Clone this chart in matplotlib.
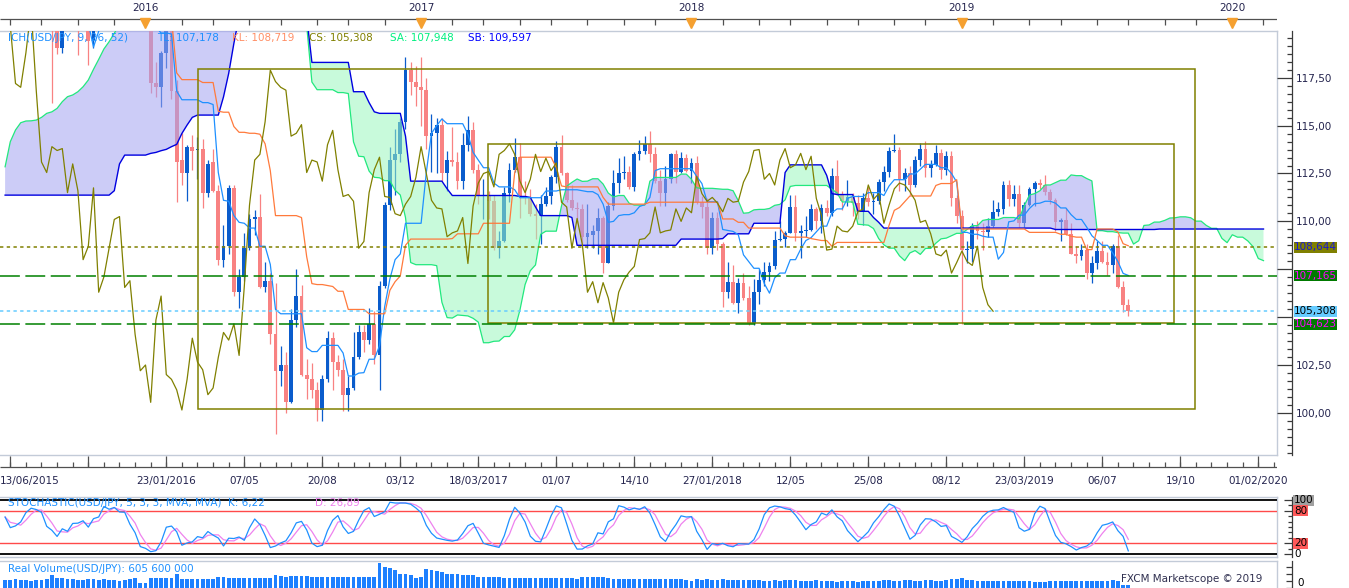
import datetime as dt
import numpy as np
import pandas as pd
import matplotlib
matplotlib.use("Agg")
import matplotlib.pyplot as plt
from matplotlib.patches import Rectangle
from matplotlib.ticker import FixedLocator, FuncFormatter, NullLocator

# ---------------------------------------------------------------- data
first_week = "2015-06-21"   # Sunday that opens weekly bar 0 (USD/JPY, weekly)

opens = [
    122.7, 123.9, 122.8, 122.8, 124.1, 123.8, 123.9, 124.2, 124.3, 122.0,
    121.7, 119.05, 120.6, 120.05, 120.55, 120.2, 120.25, 119.45, 121.4, 120.6,
    123.2, 122.6, 122.8, 122.8, 123.1, 121.0, 121.2, 120.3, 120.2, 117.2,
    117.0, 118.8, 121.1, 116.8, 113.2, 112.55, 113.9, 113.75, 113.8, 111.5,
    113.1, 111.6, 108.0, 108.7, 111.75, 106.3, 107.1, 108.6, 110.1, 110.25,
    106.55, 106.9, 104.1, 102.2, 102.5, 100.55, 104.85, 106.1, 102.0, 101.75,
    101.2, 100.15, 101.75, 103.9, 102.65, 102.25, 100.95, 101.3, 102.9, 104.2,
    103.8, 104.65, 103.0, 106.6, 110.85, 113.2, 113.5, 115.2, 117.9, 117.3,
    117.0, 116.85, 114.45, 114.6, 115.05, 112.55, 113.2, 113.1, 112.1, 114.0,
    114.75, 112.7, 111.3, 111.4, 111.05, 108.6, 108.95, 111.5, 112.7, 113.35,
    111.3, 111.25, 110.4, 110.3, 110.9, 111.3, 112.3, 113.9, 112.5, 111.1,
    110.7, 110.65, 109.2, 109.3, 109.5, 110.2, 107.8, 110.8, 112.0, 112.5,
    112.6, 111.8, 113.5, 113.7, 114.05, 113.5, 112.1, 111.5, 112.2, 113.5,
    112.6, 113.3, 112.65, 113.05, 111.0, 110.75, 108.6, 110.15, 108.8, 106.3,
    106.85, 105.75, 106.8, 106.0, 104.7, 106.3, 106.95, 107.35, 107.65, 109.05,
    109.1, 109.4, 110.75, 109.4, 109.5, 109.55, 110.65, 110.0, 110.7, 110.45,
    112.35, 111.45, 111.05, 111.25, 110.95, 110.5, 111.2, 111.0, 111.05, 112.05,
    112.6, 113.7, 113.75, 112.2, 112.5, 111.9, 113.2, 113.8, 112.8, 112.95,
    113.55, 112.7, 113.4, 111.2, 110.3, 108.5, 108.55, 109.75, 109.5, 109.45,
    109.75, 110.5, 110.65, 111.9, 111.15, 111.45, 109.9, 110.85, 111.7, 112.0,
    111.9, 111.55, 111.1, 109.95, 110.05, 109.35, 108.3, 108.2, 108.5, 107.3,
    107.85, 108.45, 107.9, 107.7, 108.7, 106.55, 105.65,
]
highs = [
    124.5, 123.9, 123.2, 124.5, 124.6, 124.6, 125.0, 125.3, 124.5, 122.0,
    121.7, 121.3, 121.3, 121.0, 120.8, 120.6, 120.4, 121.5, 121.7, 123.3,
    123.6, 123.8, 123.3, 123.7, 123.6, 122.6, 121.5, 120.6, 120.6, 118.3,
    118.9, 121.7, 121.5, 117.4, 114.6, 114.0, 114.5, 114.4, 114.3, 113.2,
    113.8, 111.9, 109.8, 111.9, 111.9, 107.5, 109.4, 110.4, 110.6, 111.45,
    107.9, 107.3, 106.8, 103.5, 103.2, 105.4, 107.5, 106.7, 102.8, 102.6,
    101.6, 102.0, 104.3, 104.2, 103.0, 102.8, 101.9, 104.2, 104.6, 104.6,
    105.5, 105.3, 106.9, 111.0, 113.9, 114.8, 115.4, 118.6, 118.3, 118.1,
    118.6, 117.5, 115.6, 115.4, 115.4, 113.65, 114.95, 113.6, 114.6, 115.5,
    115.2, 113.0, 112.2, 111.6, 111.4, 109.5, 111.8, 113.05, 114.37, 114.1,
    112.1, 111.7, 110.9, 111.4, 111.8, 112.4, 114.2, 114.5, 112.6, 111.9,
    111.0, 110.9, 110.9, 109.8, 110.7, 110.3, 111.0, 112.7, 113.3, 113.4,
    112.9, 113.6, 114.25, 114.45, 114.7, 113.9, 112.7, 112.9, 113.55, 113.75,
    113.6, 113.5, 113.3, 113.4, 111.3, 111.2, 110.5, 110.5, 108.9, 107.9,
    107.7, 107.05, 107.3, 106.6, 107.0, 107.5, 107.9, 107.9, 109.5, 110.0,
    109.5, 111.4, 111.4, 109.8, 110.3, 110.9, 110.75, 110.9, 111.1, 112.8,
    113.2, 111.6, 112.15, 111.5, 111.4, 111.5, 111.8, 111.5, 112.2, 112.9,
    113.9, 114.55, 113.9, 112.8, 112.9, 113.4, 114.1, 114.2, 113.2, 114.0,
    113.8, 113.7, 113.7, 111.4, 110.6, 109.0, 109.9, 110.0, 109.9, 110.2,
    111.1, 111.0, 112.1, 112.15, 111.9, 111.9, 111.0, 111.8, 112.1, 112.2,
    112.4, 111.7, 111.2, 110.2, 110.7, 109.9, 108.7, 108.8, 108.8, 108.2,
    108.99, 108.99, 108.4, 108.8, 109.3, 106.9, 105.95,
]
lows = [
    122.6, 122.1, 120.4, 122.4, 123.6, 123.5, 123.7, 123.8, 121.8, 116.2,
    118.75, 118.8, 120.05, 120.05, 118.7, 120.05, 118.15, 119.05, 120.1, 120.3,
    122.2, 122.5, 122.3, 122.3, 120.6, 120.3, 120.2, 120.1, 116.7, 116.5,
    115.97, 118.0, 116.4, 111.0, 111.9, 111.05, 112.7, 112.2, 110.7, 111.25,
    111.55, 107.7, 107.6, 108.3, 106.1, 105.5, 106.9, 108.5, 109.3, 106.5,
    106.3, 103.6, 98.9, 101.4, 100.0, 100.5, 104.5, 101.9, 100.7, 100.8,
    99.55, 99.6, 101.6, 101.2, 101.9, 100.1, 100.1, 101.2, 102.8, 103.2,
    103.6, 102.55, 101.2, 106.5, 110.6, 111.4, 113.1, 114.8, 116.6, 116.0,
    115.0, 113.8, 112.6, 112.5, 112.1, 111.6, 112.9, 111.7, 111.7, 113.7,
    112.5, 110.9, 110.1, 110.1, 108.5, 108.1, 108.9, 111.0, 112.6, 110.2,
    110.9, 110.3, 109.1, 108.8, 110.8, 110.9, 112.0, 112.4, 111.0, 110.6,
    109.9, 108.7, 108.6, 108.6, 108.3, 107.3, 107.8, 110.6, 111.5, 112.2,
    111.7, 111.6, 113.2, 113.5, 113.1, 112.0, 110.8, 110.8, 112.0, 112.0,
    112.5, 112.6, 112.0, 110.9, 110.2, 108.3, 108.3, 108.5, 105.55, 106.0,
    105.7, 105.2, 105.9, 104.6, 104.6, 105.7, 106.6, 106.9, 107.5, 108.95,
    108.65, 109.4, 108.95, 108.1, 109.2, 109.5, 109.6, 109.4, 110.3, 110.3,
    111.4, 110.6, 110.8, 110.3, 110.1, 109.8, 110.8, 110.4, 110.9, 111.6,
    112.3, 113.6, 111.6, 111.6, 111.4, 111.8, 112.9, 112.3, 112.3, 112.9,
    112.2, 112.4, 110.8, 109.9, 104.65, 107.8, 107.9, 109.1, 108.5, 109.2,
    109.7, 110.3, 110.4, 110.8, 110.8, 109.7, 109.7, 110.8, 110.8, 111.7,
    111.4, 110.9, 109.5, 109.0, 109.3, 108.3, 107.8, 108.0, 107.0, 106.8,
    107.5, 107.8, 107.2, 107.3, 106.5, 105.27, 105.05,
]
closes = [
    123.9, 122.8, 122.8, 124.1, 123.8, 123.9, 124.2, 124.3, 122.0, 121.7,
    119.05, 120.6, 120.05, 120.55, 120.2, 120.25, 119.4, 121.4, 120.6, 123.2,
    122.6, 122.8, 122.8, 123.1, 121.0, 121.2, 120.3, 120.2, 117.2, 117.0,
    118.8, 121.1, 116.8, 113.1, 112.55, 113.9, 113.7, 113.8, 111.5, 113.0,
    111.6, 108.0, 108.7, 111.75, 106.3, 107.1, 108.6, 110.1, 110.25, 106.55,
    106.9, 104.1, 102.2, 102.5, 100.55, 104.85, 106.1, 102.0, 101.75, 101.2,
    100.15, 101.75, 103.9, 102.65, 102.25, 100.95, 101.3, 102.9, 104.2, 103.8,
    104.65, 103.0, 106.6, 110.85, 113.2, 113.5, 115.2, 117.9, 117.3, 117.0,
    116.85, 114.45, 114.6, 115.05, 112.55, 113.2, 113.1, 112.1, 114.0, 114.75,
    112.7, 111.3, 111.4, 111.05, 108.6, 108.95, 111.5, 112.7, 113.35, 111.3,
    111.25, 110.4, 110.3, 110.9, 111.3, 112.3, 113.9, 112.5, 111.1, 110.7,
    110.65, 109.2, 109.4, 109.5, 110.2, 107.8, 110.8, 112.0, 112.5, 112.6,
    111.8, 113.5, 113.7, 114.05, 113.5, 112.1, 111.5, 112.2, 113.5, 112.6,
    113.3, 112.65, 113.05, 111.0, 110.75, 108.6, 110.15, 108.8, 106.3, 106.85,
    105.75, 106.8, 106.0, 104.7, 106.3, 106.95, 107.35, 107.65, 109.05, 109.1,
    109.4, 110.75, 109.4, 109.5, 109.55, 110.65, 110.0, 110.7, 110.45, 112.35,
    111.45, 111.05, 111.25, 110.95, 110.5, 111.2, 111.0, 111.05, 112.05, 112.6,
    113.7, 113.75, 112.2, 112.5, 111.9, 113.2, 113.8, 112.8, 112.95, 113.55,
    112.7, 113.4, 111.2, 110.3, 108.5, 108.55, 109.75, 109.5, 109.45, 109.75,
    110.5, 110.65, 111.9, 111.15, 111.45, 109.9, 110.85, 111.7, 112.0, 111.9,
    111.55, 111.1, 109.95, 110.05, 109.35, 108.3, 108.2, 108.5, 107.3, 107.85,
    108.45, 107.9, 107.7, 108.7, 106.55, 105.65, 105.308,
]
volumes_m = [  # weekly real volume, millions
    700, 680, 760, 720, 650, 640, 660, 700, 760,
    1120, 880, 860, 820, 800,
    700, 720, 760, 740, 700, 740, 700, 680, 640, 720, 780, 860,
    430, 400,
    880, 860, 900, 900, 860,
    1210,
    820, 780, 760, 780, 800, 760, 740,
    950, 940,
    900, 880, 860, 840, 860, 860, 900, 880, 900, 1130, 1000, 980,
    1060, 1040, 1050, 1000, 980,
    950, 940, 960, 930, 940,
    960, 950, 940, 960, 940, 950, 960,
    2160, 1820, 1730, 1560,
    1210, 1200, 1120, 860,
    950,
    1640, 1560, 1500, 1420,
    1210, 1180, 1200, 1150, 1150, 1100,
    950, 940, 920, 960, 940, 900,
    880, 870, 900, 880, 860, 870, 880, 860, 860, 870, 880, 850, 840, 820,
    950, 940, 960, 950, 980, 900,
    780, 760, 780, 770, 790, 760, 780, 770, 800, 780, 760, 790, 770, 760, 700, 620, 760,
    700, 760, 720, 700, 820, 720, 700, 680, 700, 720,
    690, 650, 640, 620, 660, 640, 650, 700, 660, 630,
    620, 640, 650, 640, 600, 620, 560, 580, 600, 590,
    560, 580, 600, 620, 640, 650, 660, 630, 640, 650,
    690, 640, 620, 650, 660, 620, 640, 650, 750, 800,
    900,
    700, 650, 620, 640, 600, 620, 580, 600, 610, 590,
    620, 600, 580, 560, 540, 560, 600, 620, 580, 600,
    610, 620, 600, 640, 600, 580, 620, 640, 650, 620,
    700, 606,
]

# cloud values read off the chart where the history needed to compute them is not shown
senkou_a_early = [  # displayed weeks 0..50
    112.85, 114.16, 114.77, 115.15, 115.24, 115.25, 115.29, 115.43, 115.64, 115.72,
    115.90, 116.25, 116.51, 116.60, 116.77, 117.03, 117.38, 117.94, 118.46, 119.00,
    119.38, 119.82, 120.3, 120.8, 121.2, 121.5, 121.8, 122.0, 122.2, 122.4,
    122.5, 122.6, 122.6, 122.7, 122.7, 122.7, 122.8, 122.8, 122.8, 122.8,
    122.8, 122.7, 122.6, 122.5, 122.3, 122.1, 121.9, 121.7, 121.5, 121.3,
    121.2,
]
senkou_b_early = [  # displayed weeks 0..76
    111.37, 111.37, 111.37, 111.37, 111.37, 111.37, 111.37, 111.37, 111.37, 111.37,
    111.37, 111.37, 111.37, 111.37, 111.37, 111.37, 111.37, 111.37, 111.37, 111.37,
    111.37, 111.6, 113.0, 113.46, 113.46, 113.46, 113.46, 113.46, 113.55, 113.60,
    113.69, 113.76, 113.90, 114.02, 114.59, 115.03, 115.43, 115.55, 115.55, 115.55,
    115.55, 115.55, 116.5, 117.73, 119.3, 120.7, 120.7, 120.7, 120.7, 120.7,
    120.7, 120.7, 120.7, 120.7, 120.7, 120.7, 120.7, 120.7, 120.7, 118.3,
    118.3, 118.3, 118.3, 118.3, 118.3, 118.3, 118.3, 116.77, 116.77, 116.77,
    116.2, 115.72, 115.64, 115.64, 115.64, 115.64, 115.64,
]

levels = [108.644, 107.165, 105.308, 104.623]
level_text = ["108,644", "107,165", "105,308", "104,623"]

outer_box_weeks = (37.1, 228.8)
outer_box_prices = (100.18, 117.93)
inner_box_weeks = (92.9, 224.8)
inner_box_prices = (104.67, 114.05)

date_tick_dates = ["2016-01-23", "2016-05-07", "2016-08-20", "2016-12-03", "2017-03-18",
                   "2017-07-01", "2017-10-14", "2018-01-27", "2018-05-12", "2018-08-25",
                   "2018-12-08", "2019-03-23", "2019-07-06", "2019-10-19", "2020-02-01"]
date_tick_text = ["23/01/2016", "07/05", "20/08", "03/12", "18/03/2017", "01/07", "14/10",
                  "27/01/2018", "12/05", "25/08", "08/12", "23/03/2019", "06/07", "19/10",
                  "01/02/2020"]
start_label = "13/06/2015"
year_labels = [2016, 2017, 2018, 2019, 2020]

price_ticks = [100.0, 102.5, 105.0, 107.5, 110.0, 112.5, 115.0, 117.5]
hidden_price_labels = [105.0, 107.5]   # covered by the level boxes on the reference

legend_parts = [("ICH(USD/JPY, 9, 26, 52)", 8, "#1e90ff"), ("TL: 107,178", 157, "#1e90ff"),
                ("KL: 108,719", 232, "#ff8f66"), ("CS: 105,308", 309, "#808000"),
                ("SA: 107,948", 390, "#00f080"), ("SB: 109,597", 468, "#0000ff")]
stoch_k_text = "STOCHASTIC(USD/JPY, 5, 3, 3, MVA, MVA)  K: 6,22"
stoch_d_text = "D: 26,89"
volume_text = "Real Volume(USD/JPY): 605 600 000"

# ---------------------------------------------------------------- computations
n = min(len(opens), len(highs), len(lows), len(closes), len(volumes_m))
o = np.array(opens[:n]); hi = np.array(highs[:n]); lo = np.array(lows[:n]); c = np.array(closes[:n])
vol = np.array(volumes_m[:n])
idx = np.arange(n)
hs, ls, cs = pd.Series(hi), pd.Series(lo), pd.Series(c)

SHIFT = 26
tenkan = ((hs.rolling(9, min_periods=1).max() + ls.rolling(9, min_periods=1).min()) / 2).values
kijun = ((hs.rolling(26, min_periods=1).max() + ls.rolling(26, min_periods=1).min()) / 2).values
spanA_calc = (tenkan + kijun) / 2
spanB_calc = ((hs.rolling(52, min_periods=1).max() + ls.rolling(52, min_periods=1).min()) / 2).values
sa = np.concatenate([senkou_a_early, spanA_calc[len(senkou_a_early) - SHIFT:]])
sb = np.concatenate([senkou_b_early, spanB_calc[len(senkou_b_early) - SHIFT:]])
m = min(len(sa), len(sb))
sa, sb = sa[:m], sb[:m]
xc = np.arange(m)

ll5 = ls.rolling(5, min_periods=1).min(); hh5 = hs.rolling(5, min_periods=1).max()
fastk = 100 * (cs - ll5) / (hh5 - ll5)
stk = fastk.rolling(3, min_periods=1).mean()
std = stk.rolling(3, min_periods=1).mean()

week0 = dt.date.fromisoformat(first_week)

# ---------------------------------------------------------------- figure
W, H, DPI = 1349, 588, 100
plt.rcParams['font.family'] = ['DejaVu Sans']
FS = 7.5
TXT = "#24244e"
FRAME = "#c3cbd8"
AXC = "#3a3a3a"
BLUE = "#0a5ccc"
RED = "#f88282"

fig = plt.figure(figsize=(W / DPI, H / DPI), dpi=DPI)
fig.patch.set_facecolor("white")


def axpx(x0, y0, x1, y1):
    return fig.add_axes([x0 / W, 1 - y1 / H, (x1 - x0) / W, (y1 - y0) / H])


def px2week(p):
    return (p - 5.1) / 5.2


XL = (px2week(0), px2week(1277))
OUT = 15 * 72 / DPI   # right scale sits 15 px to the right of the plot frame


def clean(a):
    for s in a.spines.values():
        s.set_visible(False)
    a.set_xticks([]); a.set_yticks([])
    a.set_facecolor("none")
    a.set_xlim(XL)


def right_scale(a):
    a.spines['right'].set_visible(True)
    a.spines['right'].set_position(('outward', OUT))
    a.spines['right'].set_color(AXC)
    a.spines['right'].set_linewidth(0.9)
    a.yaxis.tick_right()


def frame(a, sides):
    pts = {'top': ([0, 1], [1, 1]), 'bottom': ([0, 1], [0, 0]), 'right': ([1, 1], [0, 1])}
    for s in sides:
        xs, ys = pts[s]
        a.plot(xs, ys, transform=a.transAxes, color=FRAME, lw=1.0, clip_on=False, zorder=1)


def price_fmt(v, _):
    if any(abs(v - hv) < 1e-6 for hv in hidden_price_labels):
        return ""
    return f"{v:.2f}".replace('.', ',')


# ---- main price panel
ax = axpx(0, 31, 1277, 455)
clean(ax)
ax.set_ylim(97.80, 119.94)
frame(ax, ['top', 'bottom', 'right'])
right_scale(ax)
ax.yaxis.set_major_locator(FixedLocator(price_ticks))
ax.yaxis.set_minor_locator(FixedLocator(np.arange(97.5, 120.01, 2.5 / 6)))
ax.yaxis.set_major_formatter(FuncFormatter(price_fmt))
ax.tick_params(axis='y', which='major', direction='in', length=OUT, width=0.9, color=AXC,
               labelsize=FS, labelcolor=TXT, pad=3)
ax.tick_params(axis='y', which='minor', direction='in', length=3.6, width=0.9, color=AXC)

up = c >= o
col = np.where(up, BLUE, RED)
ax.vlines(idx, lo, hi, colors=col, lw=0.9, zorder=2)
body = c - o
body = np.where(np.abs(body) < 0.05, np.where(body >= 0, 0.05, -0.05), body)
ax.bar(idx, body, bottom=o, width=0.72, color=col, lw=0, zorder=2)

ax.fill_between(xc, sa, sb, where=sa >= sb, interpolate=True, color="#a2a2f2", alpha=0.55, lw=0, zorder=3)
ax.fill_between(xc, sa, sb, where=sa < sb, interpolate=True, color="#9bf6bf", alpha=0.55, lw=0, zorder=3)
ax.plot(xc, sa, color="#22e87e", lw=0.9, zorder=4)
ax.plot(xc, sb, color="#0000e0", lw=1.0, zorder=4)
ax.plot(idx, tenkan, color="#1e90ff", lw=0.9, zorder=5)
ax.plot(idx, kijun, color="#ff7a3c", lw=0.9, zorder=5)
ax.plot(idx[SHIFT:] - SHIFT, c[SHIFT:], color="#808000", lw=0.9, zorder=5)

for wk, pr in ((outer_box_weeks, outer_box_prices), (inner_box_weeks, inner_box_prices)):
    ax.add_patch(Rectangle((wk[0], pr[0]), wk[1] - wk[0], pr[1] - pr[0], fill=False,
                           ec="#808000", lw=1.1, zorder=6))

lv_col = ["#808000", "#008000", "#66ccff", "#008000"]
lv_dash = [(2.2, 2.2), (13, 3.6), (2.2, 2.2), (13, 3.6)]
lv_fc = ["#808000", "#007a00", "#66ccff", "#007a00"]
lv_tc = ["#1a1ad0", "#ff00ff", "#000000", "#ff00ff"]
for lv, txt, lc, ds, fc, tc in zip(levels, level_text, lv_col, lv_dash, lv_fc, lv_tc):
    ax.axhline(lv, color=lc, lw=1.1, dashes=ds, zorder=6)
    ax.annotate(txt, xy=(1, lv), xycoords=('axes fraction', 'data'), xytext=(17, 0),
                textcoords='offset pixels', va='center', ha='left', fontsize=FS, color=tc,
                bbox=dict(boxstyle='square,pad=0.04', fc=fc, ec='none'),
                annotation_clip=False, zorder=10)

for txt, xp, cl in legend_parts:
    fig.text(xp / W, 1 - 38 / H, txt, fontsize=FS, color=cl, va='center', ha='left', zorder=20)

# ---- top year ruler
axt = axpx(0, 0, 1277, 31)
clean(axt)
axt.set_ylim(31, 0)
axt.hlines(19, XL[0], XL[1], color="#505050", lw=0.9)
ruler = []
for yy in range(2015, 2021):
    for mm, dd in ((1, 1), (2, 15), (4, 1), (5, 15), (7, 1), (8, 15), (10, 1), (11, 15)):
        pos = (dt.date(yy, mm, dd) - week0).days // 7
        if XL[0] <= pos <= XL[1]:
            ruler.append(pos)
axt.vlines(ruler, 19, 25, color="#505050", lw=0.9)
for yy in year_labels:
    pos = (dt.date(yy, 1, 1) - week0).days // 7
    axt.text(pos, 8, str(yy), ha='center', va='center', fontsize=FS, color=TXT)
    axt.plot([pos], [22.5], marker='v', ms=6.5, color="#f5a030", mec="#f5a030", clip_on=False)

# ---- date axis strip
axd = axpx(0, 455, 1277, 497)
clean(axd)
axd.set_ylim(497, 455)
axd.hlines(467, XL[0], XL[1], color="#505050", lw=0.9)
lab_pos = [((dt.date.fromisoformat(d) - week0).days + 1) / 7 for d in date_tick_dates]
step = 15
major = np.arange(lab_pos[0] % step, XL[1], step)
minor = np.arange(lab_pos[0] % step, XL[1], 3)
axd.vlines(minor, 462, 467, color="#505050", lw=0.9)
axd.vlines(major, 456, 467, color="#505050", lw=0.9)
for p, t in zip(lab_pos, date_tick_text):
    axd.text(p, 481, t, ha='center', va='center', fontsize=FS, color=TXT)
axd.text(XL[0], 481, start_label, ha='left', va='center', fontsize=FS, color=TXT)

# ---- stochastic panel
axs = axpx(0, 497, 1277, 557)
clean(axs)
axs.set_ylim(-5.6, 105.6)
frame(axs, ['top', 'bottom', 'right'])
right_scale(axs)
axs.yaxis.set_major_locator(FixedLocator([0, 20, 80, 100]))
axs.yaxis.set_minor_locator(FixedLocator(np.arange(0, 101, 10)))
axs.yaxis.set_major_formatter(FuncFormatter(lambda v, _: ""))
axs.tick_params(axis='y', which='major', direction='in', length=5.5, width=0.9, color=AXC)
axs.tick_params(axis='y', which='minor', direction='in', length=3.0, width=0.9, color=AXC)
for lvl, lc, lw in ((100, "black", 1.3), (0, "black", 1.3), (80, "#ff4a4a", 1.0), (20, "#ff4a4a", 1.0)):
    axs.axhline(lvl, color=lc, lw=lw, zorder=2)
axs.plot(idx, std.values, color="#ee82ee", lw=0.9, zorder=3)
axs.plot(idx, stk.values, color="#1e90ff", lw=0.9, zorder=4)
for val, txt, fc in ((100, "100", "#a0a0a0"), (80, "80", "#ff5a5a"), (20, "20", "#ff5a5a"), (0, "0", None)):
    kw = dict(bbox=dict(boxstyle='square,pad=0.05', fc=fc, ec='none')) if fc else {}
    axs.annotate(txt, xy=(1, val), xycoords=('axes fraction', 'data'), xytext=(17, 0),
                 textcoords='offset pixels', va='center', ha='left', fontsize=FS, color="black",
                 annotation_clip=False, zorder=10, **kw)
fig.text(8 / W, 1 - 503 / H, stoch_k_text, fontsize=FS, color="#1e90ff", va='center', ha='left')
fig.text(315 / W, 1 - 503 / H, stoch_d_text, fontsize=FS, color="#ee82ee", va='center', ha='left')

# ---- volume panel
axv = axpx(0, 561, 1277, 588)
clean(axv)
axv.set_ylim(0, 2335)
frame(axv, ['top', 'right'])
right_scale(axv)
axv.yaxis.set_major_locator(FixedLocator([0]))
axv.yaxis.set_minor_locator(FixedLocator(np.arange(0, 2400, 600)))
axv.yaxis.set_major_formatter(FuncFormatter(lambda v, _: ""))
axv.tick_params(axis='y', which='both', direction='in', length=4, width=0.9, color=AXC)
axv.bar(idx, vol, width=0.72, color="#1e80ff", lw=0, zorder=2)
fig.text(8 / W, 1 - 569 / H, volume_text, fontsize=FS, color="#1e90ff", va='center', ha='left')
fig.text(1121 / W, 1 - 579 / H, "FXCM Marketscope © 2019", fontsize=FS, color="#303050",
         va='center', ha='left', bbox=dict(boxstyle='square,pad=0.12', fc='white', ec='none'))
fig.text(1297 / W, 1 - 583 / H, "0", fontsize=FS, color="black", va='center', ha='left')

fig.savefig("out.png", dpi=DPI)
